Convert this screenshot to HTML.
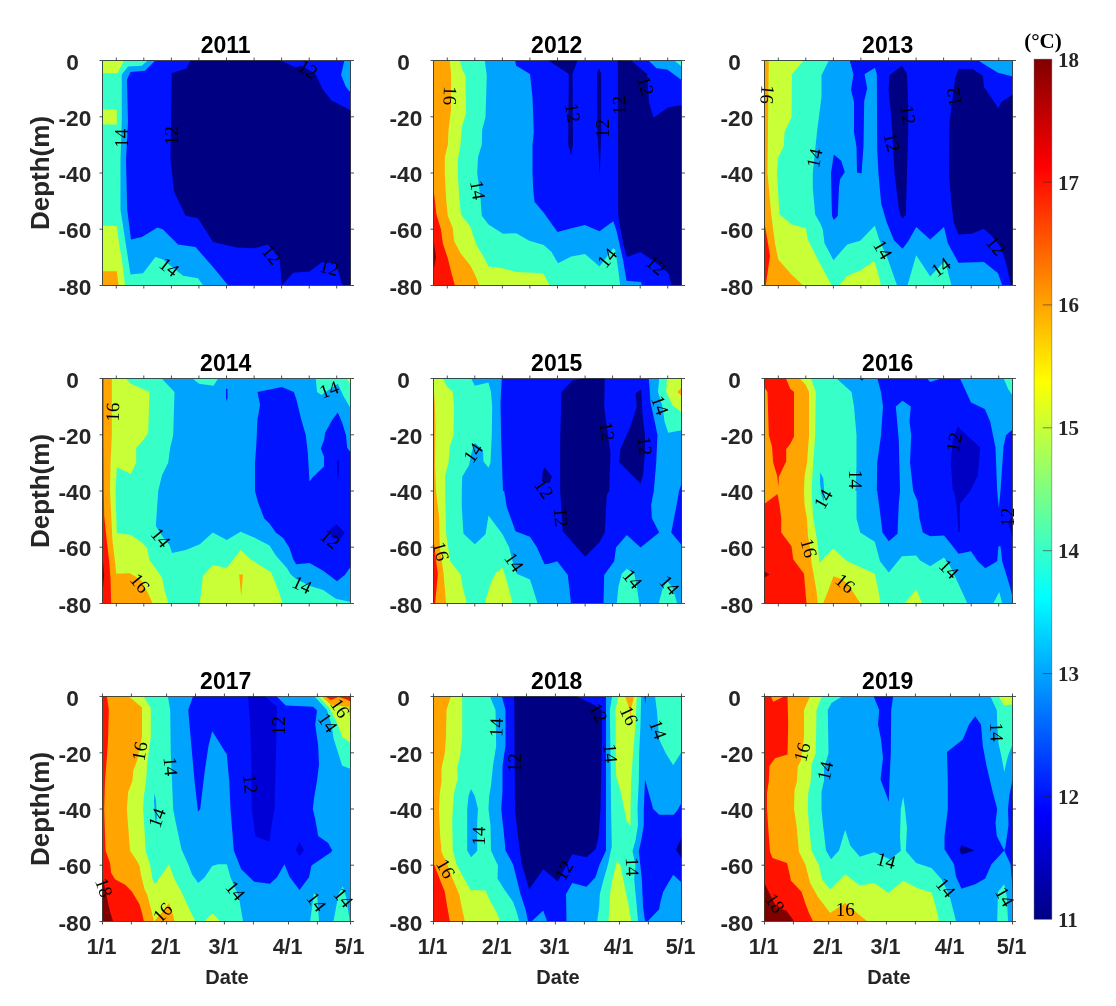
<!DOCTYPE html>
<html><head><meta charset="utf-8"><title>Temperature sections 2011-2019</title>
<style>
html,body{margin:0;padding:0;background:#fff}
svg{display:block}
.t{font-family:"Liberation Sans",Arial,Helvetica,sans-serif;font-weight:bold}
.s{font-family:"Liberation Serif","Times New Roman",serif}
</style></head><body>
<svg width="1116" height="1006" viewBox="0 0 1116 1006">
<rect width="1116" height="1006" fill="#fff"/>
<defs>
<clipPath id="c0"><rect x="102.5" y="60.5" width="248" height="225"/></clipPath>
<clipPath id="c1"><rect x="433.5" y="60.5" width="248" height="225"/></clipPath>
<clipPath id="c2"><rect x="764.5" y="60.5" width="248" height="225"/></clipPath>
<clipPath id="c3"><rect x="102.5" y="378.5" width="248" height="225"/></clipPath>
<clipPath id="c4"><rect x="433.5" y="378.5" width="248" height="225"/></clipPath>
<clipPath id="c5"><rect x="764.5" y="378.5" width="248" height="225"/></clipPath>
<clipPath id="c6"><rect x="102.5" y="696.5" width="248" height="225"/></clipPath>
<clipPath id="c7"><rect x="433.5" y="696.5" width="248" height="225"/></clipPath>
<clipPath id="c8"><rect x="764.5" y="696.5" width="248" height="225"/></clipPath>
<linearGradient id="jet" x1="0" y1="1" x2="0" y2="0"><stop offset="0" stop-color="#000083"/><stop offset="0.125" stop-color="#0000ff"/><stop offset="0.375" stop-color="#00ffff"/><stop offset="0.625" stop-color="#ffff00"/><stop offset="0.875" stop-color="#ff0000"/><stop offset="1" stop-color="#800000"/></linearGradient>
</defs>
<g id="p2011">
<g clip-path="url(#c0)">
<rect x="102.5" y="60.5" width="248" height="225" fill="#0012ff"/>
<polygon fill="#000083" points="190.5,60.2 186.8,68.2 171.8,73.2 170.5,159.5 174.2,192 185.5,215.8 198,218.2 213,242 236.8,247.5 254.2,248.2 268.2,244.5 279.5,258.2 282,285.2 293.2,272.8 309.5,271.5 322.2,262 336,263.2 341.5,282 342.8,285.2 351,285.2 351,110.5 331.5,100.5 322.8,89.2 315.2,73.8 301.5,65.8 295.8,67.5 279.8,60.2"/>
<polygon fill="#00a4ff" points="102.5,60.2 155.5,60.2 145,70.8 130.5,72 127,79.5 128,122 126,159.5 127.2,209.5 131,239.5 141.8,237 157.5,227.5 163,229.5 178,244.5 195.5,247 213,267 228,285.2 102.5,285.2"/>
<polygon fill="#00a4ff" points="344.5,60.2 341,75 345.8,86.8 351,93 351,60.2"/>
<polygon fill="#37ffc8" points="102.5,60.2 148,60.2 141.8,65.8 128,66.5 121.8,74.5 121.8,122 120.5,159.5 120.5,209.5 125.5,242 130.5,274.5 143,273.2 155.5,257 163,259.5 183,275.8 198,278.2 203,285.2 102.5,285.2"/>
<polygon fill="#c8ff37" points="102.5,60.2 124.2,60.2 117.5,73.2 102.5,73.2"/>
<polygon fill="#c8ff37" points="102.5,109.5 116.8,109.5 116.8,124.5 102.5,124.5"/>
<polygon fill="#c8ff37" points="102.5,225.8 116.8,225.8 119.2,244.5 121.8,259.5 125,285.2 102.5,285.2"/>
<polygon fill="#ffa400" points="102.5,271.2 116.8,271.2 118.5,285.2 102.5,285.2"/>
</g>
<text class="s" x="121.2" y="138.2" font-size="19" text-anchor="middle" dominant-baseline="central" transform="rotate(-90 121.2 138.2)">14</text>
<text class="s" x="171.8" y="135.8" font-size="19" text-anchor="middle" dominant-baseline="central" transform="rotate(-90 171.8 135.8)">12</text>
<text class="s" x="169.2" y="267" font-size="19" text-anchor="middle" dominant-baseline="central" transform="rotate(38 169.2 267)">14</text>
<text class="s" x="271.8" y="254.5" font-size="19" text-anchor="middle" dominant-baseline="central" transform="rotate(50 271.8 254.5)">12</text>
<text class="s" x="329.2" y="267.5" font-size="19" text-anchor="middle" dominant-baseline="central" transform="rotate(15 329.2 267.5)">12</text>
<text class="s" x="308" y="69" font-size="19" text-anchor="middle" dominant-baseline="central" transform="rotate(32 308 69)">12</text>
<path d="M102.5,60.5V285.5H350.5M350.5,60.5V285.5M102.5,60.5H350.5M99.5,60.5H102.5M350.5,60.5H354.0M99.5,116.8H102.5M350.5,116.8H354.0M99.5,173H102.5M350.5,173H354.0M99.5,229.2H102.5M350.5,229.2H354.0M99.5,285.5H102.5M350.5,285.5H354.0M116.3,285.5v3M116.3,60.5v-3M143.8,285.5v3M143.8,60.5v-3M171.4,285.5v3M171.4,60.5v-3M198.9,285.5v3M198.9,60.5v-3M226.5,285.5v3M226.5,60.5v-3M254.1,285.5v3M254.1,60.5v-3M281.6,285.5v3M281.6,60.5v-3M309.2,285.5v3M309.2,60.5v-3M336.7,285.5v3M336.7,60.5v-3" fill="none" stroke="#262626" stroke-width="1" stroke-opacity="0.8"/>
<text class="t" x="225.7" y="53.3" font-size="23" text-anchor="middle" fill="#000">2011</text>
<text class="t" x="78.8" y="69.6" font-size="22.7" text-anchor="end" fill="#262626">0</text>
<text class="t" x="91.3" y="125.8" font-size="22.7" text-anchor="end" fill="#262626">-20</text>
<text class="t" x="91.3" y="182.1" font-size="22.7" text-anchor="end" fill="#262626">-40</text>
<text class="t" x="91.3" y="238.3" font-size="22.7" text-anchor="end" fill="#262626">-60</text>
<text class="t" x="91.3" y="294.6" font-size="22.7" text-anchor="end" fill="#262626">-80</text>
<text class="t" x="48.5" y="173" font-size="26" text-anchor="middle" fill="#262626" transform="rotate(-90 48.5 173)">Depth(m)</text>
</g>
<g id="p2012">
<g clip-path="url(#c1)">
<rect x="433.5" y="60.5" width="248" height="225" fill="#0012ff"/>
<polygon fill="#000083" points="617.8,60.2 618,147 618.2,214.5 619.5,223.2 623.2,243.2 627,257 640.2,252 653.5,260.8 668.5,273.2 671.5,285.2 682,285.2 682,105.2 668.5,107.2 653.5,117.8 649,102.2 647,74 630.8,60.2"/>
<polygon fill="#000083" points="548,60.2 577.5,60.2 572.5,74 573,144.8 571.2,155.2 568.2,144.8 568.8,74"/>
<polygon fill="#000083" points="598.8,68.2 601.2,73.2 601.2,134.5 599.8,175 597.5,134.5 597,73.2"/>
<polygon fill="#00a4ff" points="433.5,60.2 515,60.2 516.2,65.8 530,74 532.5,97.2 533.8,132.2 532.5,144.8 532.5,173 533.2,189.2 534.5,201.8 543.2,212 557.5,232 571.5,228.2 585,225 599.5,231.2 613.2,221.2 616.5,230.8 623.2,260.8 626.5,280.8 640.8,282 642,285.2 433.5,285.2"/>
<polygon fill="#00a4ff" points="648.2,60.2 656.5,68.2 667.2,69.5 682,80.2 682,60.2"/>
<polygon fill="#37ffc8" points="674,60.2 682,67 682,60.2"/>
<polygon fill="#37ffc8" points="433.5,60.2 484.8,60.2 486.8,75.8 485.5,117.2 482.2,129.8 481.8,144.8 478,157.2 477.2,173 480.5,198 481.8,215.8 488.5,224.5 503,233.8 516.2,233.2 529.2,240.8 543.8,245 551.5,252 558,263.2 571.2,256.5 585,254 599.5,266.5 613.2,248.2 615.2,249.5 618.2,269.5 620.2,285.2 433.5,285.2"/>
<polygon fill="#c8ff37" points="433.5,60.2 459.8,60.2 462.2,69.5 465.5,75.8 466,113.5 461.8,127.2 460.5,144.8 457.8,159.8 457.8,173 459.2,198 461,214.5 470.5,227 474.2,238.2 476.8,245.8 483,255.8 488.5,266.5 502.5,268.2 516.2,272 543.2,273.2 549.5,285.2 433.5,285.2"/>
<polygon fill="#ffa400" points="433.5,60.2 449.8,60.2 451,74 451,109.8 448.5,129.8 447.8,144.8 444.8,157.2 444.8,173 446,198 447.8,215.8 452.8,228.2 454,240.8 460.5,253.2 470.5,265.8 475.5,275.8 479.2,285.2 433.5,285.2"/>
<polygon fill="#ff1200" points="433.5,192 434,193 436.5,214.5 441,229.5 442.8,243.2 447.8,258.2 451.5,273.2 454.8,285.2 433.5,285.2"/>
<polygon fill="#800000" points="433.5,243.2 434,243.2 436,257 434,268.2 433.5,268.2"/>
</g>
<text class="s" x="450.2" y="95.8" font-size="19" text-anchor="middle" dominant-baseline="central" transform="rotate(92 450.2 95.8)">16</text>
<text class="s" x="478" y="190" font-size="19" text-anchor="middle" dominant-baseline="central" transform="rotate(80 478 190)">14</text>
<text class="s" x="573" y="112.8" font-size="19" text-anchor="middle" dominant-baseline="central" transform="rotate(80 573 112.8)">12</text>
<text class="s" x="602" y="128.5" font-size="19" text-anchor="middle" dominant-baseline="central" transform="rotate(-90 602 128.5)">12</text>
<text class="s" x="619" y="105.2" font-size="19" text-anchor="middle" dominant-baseline="central" transform="rotate(-92 619 105.2)">12</text>
<text class="s" x="645.8" y="85.8" font-size="19" text-anchor="middle" dominant-baseline="central" transform="rotate(75 645.8 85.8)">12</text>
<text class="s" x="607" y="257.8" font-size="19" text-anchor="middle" dominant-baseline="central" transform="rotate(-50 607 257.8)">14</text>
<text class="s" x="656" y="265.2" font-size="19" text-anchor="middle" dominant-baseline="central" transform="rotate(40 656 265.2)">12</text>
<path d="M433.5,60.5V285.5H681.5M681.5,60.5V285.5M433.5,60.5H681.5M430.5,60.5H433.5M681.5,60.5H685.0M430.5,116.8H433.5M681.5,116.8H685.0M430.5,173H433.5M681.5,173H685.0M430.5,229.2H433.5M681.5,229.2H685.0M430.5,285.5H433.5M681.5,285.5H685.0M447.3,285.5v3M447.3,60.5v-3M474.8,285.5v3M474.8,60.5v-3M502.4,285.5v3M502.4,60.5v-3M529.9,285.5v3M529.9,60.5v-3M557.5,285.5v3M557.5,60.5v-3M585.1,285.5v3M585.1,60.5v-3M612.6,285.5v3M612.6,60.5v-3M640.2,285.5v3M640.2,60.5v-3M667.7,285.5v3M667.7,60.5v-3" fill="none" stroke="#262626" stroke-width="1" stroke-opacity="0.8"/>
<text class="t" x="556.7" y="53.3" font-size="23" text-anchor="middle" fill="#000">2012</text>
<text class="t" x="409.8" y="69.6" font-size="22.7" text-anchor="end" fill="#262626">0</text>
<text class="t" x="422.3" y="125.8" font-size="22.7" text-anchor="end" fill="#262626">-20</text>
<text class="t" x="422.3" y="182.1" font-size="22.7" text-anchor="end" fill="#262626">-40</text>
<text class="t" x="422.3" y="238.3" font-size="22.7" text-anchor="end" fill="#262626">-60</text>
<text class="t" x="422.3" y="294.6" font-size="22.7" text-anchor="end" fill="#262626">-80</text>
</g>
<g id="p2013">
<g clip-path="url(#c2)">
<rect x="764.5" y="60.5" width="248" height="225" fill="#0012ff"/>
<polygon fill="#000083" points="958.5,69.2 972.8,69.2 982.8,75.8 984,87 998.5,108.5 1001,102.2 1013,94.5 1013,285.2 1011,285.2 1005.5,260.8 1000.5,247 993,237 984,228.8 971.5,233.8 958.5,234.5 954,223.2 951.5,204.2 949,173 949.5,122.2 952,103.5 955.2,78.2"/>
<polygon fill="#000083" points="902,65.5 907,74 908.2,103.5 908.2,134.8 907,173 905.8,215 902.8,218.2 900.8,215.8 898.8,208.2 894.5,173 892.5,134.8 890.8,112.2 888.5,89.8 889.5,75.2"/>
<polygon fill="#00a4ff" points="764.2,60.2 849.8,60.2 853.5,74 859,72 864.5,74 874.8,67.8 876.8,74 877.2,150 878.5,174 881.2,203.8 886.5,221.8 893.8,240 902.5,248.8 908.2,241.2 916.2,227 930.2,239.5 944,227 947.8,243.2 958.5,262.8 984,262 998,273.2 1002.2,285.2 764.2,285.2"/>
<polygon fill="#00a4ff" points="977.8,60.2 986.5,65.8 998,72.8 1013,76.5 1013,60.2"/>
<polygon fill="#0012ff" points="849.8,60.2 853.5,74 851,89.8 854,102.2 854,132.2 856.5,147.2 857,172.5 861.5,173.5 863.5,147 864.2,101 867.2,88.5 864.5,74 874.8,67.8 880,60.2"/>
<polygon fill="#0012ff" points="833.8,154.5 841.2,160.8 844.8,172 840,179.5 839,187 837.8,215.8 833.8,220 832,215.8 831.5,198 831,173"/>
<polygon fill="#37ffc8" points="764.2,60.2 829,60.2 821.5,75.2 821.5,97 817,132.2 812.8,173 812.8,188 815.2,214.5 820.2,223.2 822.8,229.5 824.5,243.2 833.5,260.2 847.2,244.5 860.2,240.8 874.8,225.8 879.2,239.5 887.5,258.2 897,285.2 764.2,285.2"/>
<polygon fill="#37ffc8" points="907.5,285.2 916.2,255.2 930.2,276.5 937.8,268.2 945.2,260.8 948.2,273.2 951.5,285.2"/>
<polygon fill="#c8ff37" points="764.2,60.2 804,60.2 792,74 791.5,117.2 784.5,132.2 783.8,146 778.2,157.5 777,173 779.5,214.5 792,224.5 805.8,228.2 807.8,239.5 817.8,259.5 831.5,285.2 764.2,285.2"/>
<polygon fill="#c8ff37" points="839,285.2 847.2,275.8 861,270.2 874.2,260.8 878,273.2 881,285.2"/>
<polygon fill="#ffa400" points="764.2,60.2 768.8,60.2 768.2,109.5 767.5,173 771.2,214.5 775,243.2 778.2,259.5 791.5,274.5 802.8,285.2 764.2,285.2"/>
<polygon fill="#ff1200" points="764.2,225.8 765,225.8 770,255.8 768.2,268.2 765.8,285.2 764.2,285.2"/>
</g>
<text class="s" x="767.5" y="94.5" font-size="19" text-anchor="middle" dominant-baseline="central" transform="rotate(95 767.5 94.5)">16</text>
<text class="s" x="814.5" y="158.2" font-size="19" text-anchor="middle" dominant-baseline="central" transform="rotate(-78 814.5 158.2)">14</text>
<text class="s" x="908.2" y="114.8" font-size="19" text-anchor="middle" dominant-baseline="central" transform="rotate(80 908.2 114.8)">12</text>
<text class="s" x="892" y="142.2" font-size="19" text-anchor="middle" dominant-baseline="central" transform="rotate(75 892 142.2)">12</text>
<text class="s" x="954" y="97" font-size="19" text-anchor="middle" dominant-baseline="central" transform="rotate(-100 954 97)">12</text>
<text class="s" x="883" y="249.5" font-size="19" text-anchor="middle" dominant-baseline="central" transform="rotate(60 883 249.5)">14</text>
<text class="s" x="940.8" y="267" font-size="19" text-anchor="middle" dominant-baseline="central" transform="rotate(-35 940.8 267)">14</text>
<text class="s" x="996" y="245.8" font-size="19" text-anchor="middle" dominant-baseline="central" transform="rotate(50 996 245.8)">12</text>
<path d="M764.5,60.5V285.5H1012.5M1012.5,60.5V285.5M764.5,60.5H1012.5M761.5,60.5H764.5M1012.5,60.5H1016.0M761.5,116.8H764.5M1012.5,116.8H1016.0M761.5,173H764.5M1012.5,173H1016.0M761.5,229.2H764.5M1012.5,229.2H1016.0M761.5,285.5H764.5M1012.5,285.5H1016.0M778.3,285.5v3M778.3,60.5v-3M805.8,285.5v3M805.8,60.5v-3M833.4,285.5v3M833.4,60.5v-3M860.9,285.5v3M860.9,60.5v-3M888.5,285.5v3M888.5,60.5v-3M916.1,285.5v3M916.1,60.5v-3M943.6,285.5v3M943.6,60.5v-3M971.2,285.5v3M971.2,60.5v-3M998.7,285.5v3M998.7,60.5v-3" fill="none" stroke="#262626" stroke-width="1" stroke-opacity="0.8"/>
<text class="t" x="887.7" y="53.3" font-size="23" text-anchor="middle" fill="#000">2013</text>
<text class="t" x="740.8" y="69.6" font-size="22.7" text-anchor="end" fill="#262626">0</text>
<text class="t" x="753.3" y="125.8" font-size="22.7" text-anchor="end" fill="#262626">-20</text>
<text class="t" x="753.3" y="182.1" font-size="22.7" text-anchor="end" fill="#262626">-40</text>
<text class="t" x="753.3" y="238.3" font-size="22.7" text-anchor="end" fill="#262626">-60</text>
<text class="t" x="753.3" y="294.6" font-size="22.7" text-anchor="end" fill="#262626">-80</text>
</g>
<g id="p2014">
<g clip-path="url(#c3)">
<rect x="102.5" y="378.5" width="248" height="225" fill="#00a4ff"/>
<polygon fill="#0012ff" points="257.5,392 282,387 293.8,392 296.2,398.8 300.8,417.8 305.8,435.2 307.8,452.8 309.5,481.5 313.2,476.8 324,466.5 324,456.5 320.8,448.5 324,440.2 325.2,432.8 332,420.2 337.8,412.5 342.2,422.8 346,435.2 347.2,447.8 351,452.8 351,566.2 344.8,575 337,581.2 323.2,570.8 309.5,563 296.2,564.2 293.2,559.2 289.5,548 283.2,538 275.8,532.5 269.5,523.5 264.2,518.5 258,502.2 255,491 255,462.8 256.2,446.5 257.5,419 260,405"/>
<polygon fill="#0000c4" points="336.5,524.2 344.8,532.5 339.8,540 332,537.5 329.5,530"/>
<polygon fill="#0000c4" points="337,461.2 338.8,460 338.8,472.5 337.8,481.2"/>
<polygon fill="#0012ff" points="226,388.8 227.5,388.8 227.5,397.5 226.8,401.2 226,397.5"/>
<polygon fill="#37ffc8" points="102.5,378 161.2,378 174.5,392 173.2,435.2 170.2,447.8 168.2,462.8 162,475.2 158.2,491 155.8,526 163.2,537.5 169.5,545 172,553 185.8,550 199.8,544.2 212.8,532.5 226.8,540 240.5,531.8 254.2,537.5 269.5,545.5 275.8,555.5 287,568.2 290.8,574.5 295.8,578.8 309.5,585.8 323.2,590 335.8,598.8 351,602 351,603 102.5,603"/>
<polygon fill="#37ffc8" points="192,378 199,383.8 213.5,385.8 218.5,378"/>
<polygon fill="#37ffc8" points="315.8,378 317,392 321.5,395 337.8,383.8 343.5,396.2 351,409 351,378"/>
<polygon fill="#c8ff37" points="346.5,378 351,385 351,378"/>
<polygon fill="#c8ff37" points="102.5,378 125.5,378 130.8,383.8 149.5,392 148.2,432.8 143.2,440.2 136.2,447.8 136.2,462.8 130.8,474 116.8,467.2 115.5,491 116.8,533 130.8,535 142,542.5 147,548 149.5,560 155.8,568.8 162,577.5 164.5,590 168.2,603 102.5,603"/>
<polygon fill="#c8ff37" points="199.8,603 202.8,576.2 212.8,565 226.8,568 240.5,550 250.5,559.2 271.2,572.5 278.2,590 282.5,603"/>
<polygon fill="#ffa400" points="102.5,378 111.8,378 111.8,435.2 110.5,462.8 110,491 111.2,516 112.5,541.2 115,561.2 116.2,573.8 130,573.2 140.8,580 147,591.2 152.5,603 102.5,603"/>
<polygon fill="#ffa400" points="239.2,574.5 243,574.5 241.2,596.2"/>
<polygon fill="#ff1200" points="102.5,378 103.5,378 103.5,440 103.8,491 104.2,516 106.8,541.2 109.2,561.2 110.5,578.8 111.2,603 102.5,603"/>
<polygon fill="#800000" points="102.5,561.2 103,561.2 104.2,575 103,587.5 102.5,587.5"/>
</g>
<text class="s" x="112.5" y="412" font-size="19" text-anchor="middle" dominant-baseline="central" transform="rotate(-88 112.5 412)">16</text>
<text class="s" x="160.8" y="537.5" font-size="19" text-anchor="middle" dominant-baseline="central" transform="rotate(50 160.8 537.5)">14</text>
<text class="s" x="140" y="583.2" font-size="19" text-anchor="middle" dominant-baseline="central" transform="rotate(50 140 583.2)">16</text>
<text class="s" x="302" y="584.5" font-size="19" text-anchor="middle" dominant-baseline="central" transform="rotate(25 302 584.5)">14</text>
<text class="s" x="330.2" y="538.8" font-size="19" text-anchor="middle" dominant-baseline="central" transform="rotate(40 330.2 538.8)">12</text>
<text class="s" x="329" y="389.5" font-size="19" text-anchor="middle" dominant-baseline="central" transform="rotate(-20 329 389.5)">14</text>
<path d="M102.5,378.5V603.5H350.5M350.5,378.5V603.5M102.5,378.5H350.5M99.5,378.5H102.5M350.5,378.5H354.0M99.5,434.8H102.5M350.5,434.8H354.0M99.5,491H102.5M350.5,491H354.0M99.5,547.2H102.5M350.5,547.2H354.0M99.5,603.5H102.5M350.5,603.5H354.0M116.3,603.5v3M116.3,378.5v-3M143.8,603.5v3M143.8,378.5v-3M171.4,603.5v3M171.4,378.5v-3M198.9,603.5v3M198.9,378.5v-3M226.5,603.5v3M226.5,378.5v-3M254.1,603.5v3M254.1,378.5v-3M281.6,603.5v3M281.6,378.5v-3M309.2,603.5v3M309.2,378.5v-3M336.7,603.5v3M336.7,378.5v-3" fill="none" stroke="#262626" stroke-width="1" stroke-opacity="0.8"/>
<text class="t" x="225.7" y="371.3" font-size="23" text-anchor="middle" fill="#000">2014</text>
<text class="t" x="78.8" y="387.6" font-size="22.7" text-anchor="end" fill="#262626">0</text>
<text class="t" x="91.3" y="443.9" font-size="22.7" text-anchor="end" fill="#262626">-20</text>
<text class="t" x="91.3" y="500.1" font-size="22.7" text-anchor="end" fill="#262626">-40</text>
<text class="t" x="91.3" y="556.4" font-size="22.7" text-anchor="end" fill="#262626">-60</text>
<text class="t" x="91.3" y="612.6" font-size="22.7" text-anchor="end" fill="#262626">-80</text>
<text class="t" x="48.5" y="491" font-size="26" text-anchor="middle" fill="#262626" transform="rotate(-90 48.5 491)">Depth(m)</text>
</g>
<g id="p2015">
<g clip-path="url(#c4)">
<rect x="433.5" y="378.5" width="248" height="225" fill="#0012ff"/>
<polygon fill="#000083" points="572.2,380.8 584,378 604.8,378 604.2,406.5 608,435.2 610.5,452.8 609.2,491 606.8,495 604.8,532.5 599.2,542.5 585.2,556.8 562.8,531.2 560.2,491 560.2,440.2 561.5,392"/>
<polygon fill="#000083" points="641.2,389.5 635.5,393.2 636.8,406.5 630.5,426.5 620.5,449 619.2,462.2 640.5,483.5 643,475.2 645,452.8 645,435.2 642.5,415"/>
<polygon fill="#000083" points="544.5,467.2 552,476.8 549.5,483 542,481.8 542.5,472.8"/>
<polygon fill="#00a4ff" points="433.5,378 501.8,378 500.5,402.5 501.2,440.2 502.5,477.8 503,491 504.2,491 506.8,507.2 515.5,531.2 530,536.8 537,547.5 544.5,564.2 549,563.8 557.2,561.2 567.8,575 571,603 433.5,603"/>
<polygon fill="#00a4ff" points="603.5,603 604.2,575 614.2,561.2 616,547.5 626.8,535 640.5,547.5 659.2,532.5 651.8,518 651.2,504.8 653.8,491 656.2,462.8 657.5,435.2 655.5,425.2 650.5,402.5 648.8,378 682,378 682,603"/>
<polygon fill="#0012ff" points="682,482.5 679,491 676.2,507.2 671.2,532.5 682,545.5"/>
<polygon fill="#37ffc8" points="433.5,378 471,378 474.8,385.8 488.5,382.5 491,392 492.2,406.5 491.8,435.2 490.5,462.8 488.5,467.8 483.5,461.5 483,450.2 474.8,442.8 471.5,452.8 469,465.2 462.2,476.8 461.8,491 461.8,507.2 463.5,533.8 474.8,544.2 485.5,534.2 488.5,515.5 502.5,534.2 509.2,547.5 512.5,561.2 516.8,573.8 530,579.5 537.5,603 433.5,603"/>
<polygon fill="#37ffc8" points="659.2,378 658,392 662.5,406.5 664.5,421.5 668.2,432.8 682,430.2 682,378"/>
<polygon fill="#37ffc8" points="616.8,603 618.5,586.2 621.8,573.8 626.8,568.8 634.2,573.8 636.8,586.2 639.2,603"/>
<polygon fill="#37ffc8" points="658.8,603 663,587.5 667.5,581.2 672.5,587.5 677,603"/>
<polygon fill="#c8ff37" points="433.5,378 442.8,378 447.2,387 452.8,392 454,406.5 453.5,435.2 449.8,446.5 448.5,462.8 445.2,475.2 445.2,491 446,532.5 450.2,561.2 460.5,574.5 463,588.8 466.8,603 433.5,603"/>
<polygon fill="#c8ff37" points="484.8,603 490.5,583.8 495.5,573.2 502.5,567.5 506.8,581.2 512.5,603"/>
<polygon fill="#c8ff37" points="667,378 666.2,392 672.5,405.2 682,412.8 682,378"/>
<polygon fill="#ffa400" points="682,387 677.5,392 682,396.5"/>
<polygon fill="#ffa400" points="433.5,385 434.8,402.5 435.5,427.5 435,465 436,491 439,516 439.8,547.5 443.5,572.5 446,603 433.5,603"/>
<polygon fill="#ff1200" points="433.5,543.8 434,543.8 437.8,573.8 436.5,588.8 435.2,603 433.5,603"/>
</g>
<text class="s" x="473" y="452.8" font-size="19" text-anchor="middle" dominant-baseline="central" transform="rotate(-55 473 452.8)">14</text>
<text class="s" x="607.2" y="431.5" font-size="19" text-anchor="middle" dominant-baseline="central" transform="rotate(80 607.2 431.5)">12</text>
<text class="s" x="645" y="446" font-size="19" text-anchor="middle" dominant-baseline="central" transform="rotate(85 645 446)">12</text>
<text class="s" x="660" y="405.2" font-size="19" text-anchor="middle" dominant-baseline="central" transform="rotate(70 660 405.2)">14</text>
<text class="s" x="441" y="551.2" font-size="19" text-anchor="middle" dominant-baseline="central" transform="rotate(75 441 551.2)">16</text>
<text class="s" x="514.2" y="562" font-size="19" text-anchor="middle" dominant-baseline="central" transform="rotate(55 514.2 562)">14</text>
<text class="s" x="561" y="517.2" font-size="19" text-anchor="middle" dominant-baseline="central" transform="rotate(85 561 517.2)">12</text>
<text class="s" x="544" y="488.8" font-size="19" text-anchor="middle" dominant-baseline="central" transform="rotate(55 544 488.8)">12</text>
<text class="s" x="632.5" y="578.8" font-size="19" text-anchor="middle" dominant-baseline="central" transform="rotate(50 632.5 578.8)">14</text>
<text class="s" x="669.5" y="585" font-size="19" text-anchor="middle" dominant-baseline="central" transform="rotate(48 669.5 585)">14</text>
<path d="M433.5,378.5V603.5H681.5M681.5,378.5V603.5M433.5,378.5H681.5M430.5,378.5H433.5M681.5,378.5H685.0M430.5,434.8H433.5M681.5,434.8H685.0M430.5,491H433.5M681.5,491H685.0M430.5,547.2H433.5M681.5,547.2H685.0M430.5,603.5H433.5M681.5,603.5H685.0M447.3,603.5v3M447.3,378.5v-3M474.8,603.5v3M474.8,378.5v-3M502.4,603.5v3M502.4,378.5v-3M529.9,603.5v3M529.9,378.5v-3M557.5,603.5v3M557.5,378.5v-3M585.1,603.5v3M585.1,378.5v-3M612.6,603.5v3M612.6,378.5v-3M640.2,603.5v3M640.2,378.5v-3M667.7,603.5v3M667.7,378.5v-3" fill="none" stroke="#262626" stroke-width="1" stroke-opacity="0.8"/>
<text class="t" x="556.7" y="371.3" font-size="23" text-anchor="middle" fill="#000">2015</text>
<text class="t" x="409.8" y="387.6" font-size="22.7" text-anchor="end" fill="#262626">0</text>
<text class="t" x="422.3" y="443.9" font-size="22.7" text-anchor="end" fill="#262626">-20</text>
<text class="t" x="422.3" y="500.1" font-size="22.7" text-anchor="end" fill="#262626">-40</text>
<text class="t" x="422.3" y="556.4" font-size="22.7" text-anchor="end" fill="#262626">-60</text>
<text class="t" x="422.3" y="612.6" font-size="22.7" text-anchor="end" fill="#262626">-80</text>
</g>
<g id="p2016">
<g clip-path="url(#c5)">
<rect x="764.5" y="378.5" width="248" height="225" fill="#0012ff"/>
<polygon fill="#0000c4" points="957.8,426.5 980.2,447.8 977.8,475.2 970.2,491 960.2,503.5 959.8,516 960.2,532.5 958.5,531.2 956.5,506 954,491 952.8,491 950.8,462.8 952.8,440.2"/>
<polygon fill="#0000c4" points="1008,522.2 1013,515 1013,538.8"/>
<polygon fill="#00a4ff" points="764.2,378 877.2,378 881,392 883,406.5 881,435.2 877.2,462.8 876.8,491 877.2,491 880.5,516 882.5,532.5 888.8,541.2 897.5,533.8 898.8,503.5 900,491 898.8,440.2 895.8,406.5 902.5,400.8 910.8,406.5 909.5,421.5 911.2,435.2 910,462.8 913.2,491 917.5,501 919.5,518.5 922.8,532.5 930.2,536.2 944,535.5 950.8,543.8 958.5,553.8 971,551.2 977.8,561.2 985.2,568.2 997.2,561.2 998.5,546.2 1000.5,546.2 1002.2,561.2 1006.8,576.2 1010.5,588.8 1013,598.8 1013,603 764.2,603"/>
<polygon fill="#00a4ff" points="959.8,378 971,402.5 984.8,409 990.2,421.5 995.5,447.8 997.2,491 998.8,508 1000.5,491 1003.5,446.5 1006,435.2 1013,429 1013,378"/>
<polygon fill="#00a4ff" points="926.5,378 930.2,382 942.8,378"/>
<polygon fill="#0012ff" points="859,378 861.8,380.8 864.8,378"/>
<polygon fill="#37ffc8" points="1003.5,378 1008,388.8 1013,396.2 1013,378"/>
<polygon fill="#37ffc8" points="764.2,378 836,378 851.5,392 854,406.5 856.5,435.2 856.5,465.2 855.5,491 856.5,491 856.5,518.5 860.2,532.5 874.8,541.8 880,561.2 888.8,572.5 902,556.2 916.2,555.5 920.2,560.5 930.2,566.2 944,557.5 950.2,566.2 957.8,582.5 967.2,603 764.2,603"/>
<polygon fill="#37ffc8" points="993.5,603 999.2,592 1002.2,603"/>
<polygon fill="#00a4ff" points="820.2,472.2 823.2,478 824.5,495 823.5,502 821.5,495 820,482.5"/>
<polygon fill="#c8ff37" points="764.2,378 810.8,378 815.8,392 815.2,435.2 813.2,462.8 811.5,491 813.2,518.5 815.8,532.5 817.8,546.2 819.5,563 826.5,555 833.5,548.8 840.2,555 847.2,561.2 861,567.5 874.8,573.8 878,588.8 880.5,603 764.2,603"/>
<polygon fill="#c8ff37" points="905,603 916.2,589.5 922,603"/>
<polygon fill="#ffa400" points="764.2,378 799.5,378 805.8,385 809,392 809,435.2 807,462.8 804.5,476.8 804,491 804.5,504.8 807,518.5 807.8,535 810.2,548.8 811.5,562.5 814,576.2 816.5,591.2 817.8,603 764.2,603"/>
<polygon fill="#ffa400" points="823.2,603 828.5,590 833.5,576.2 842.8,579.5 850.2,587.5 856.5,597.5 860.2,603"/>
<polygon fill="#ff1200" points="764.2,378 785.8,378 790.2,388.8 794,392 794,436.5 790.2,444 786.2,449 786.2,461.5 778.8,476.8 778.5,486.8 777,475.2 773.2,462.8 772,446.5 768.8,435.2 767.5,392 764.2,387"/>
<polygon fill="#ff1200" points="764.2,504 777.5,494 779.5,504.8 781.2,518.5 781.2,532.5 791.5,546.2 793.2,559.2 804,573.8 805.2,588.8 806.5,603 764.2,603"/>
<polygon fill="#800000" points="764.2,571.5 769.5,574.5 764.2,577.8"/>
</g>
<text class="s" x="855.2" y="479.2" font-size="19" text-anchor="middle" dominant-baseline="central" transform="rotate(90 855.2 479.2)">14</text>
<text class="s" x="954" y="442.2" font-size="19" text-anchor="middle" dominant-baseline="central" transform="rotate(-80 954 442.2)">12</text>
<text class="s" x="823" y="499" font-size="19" text-anchor="middle" dominant-baseline="central" transform="rotate(-60 823 499)">14</text>
<text class="s" x="809" y="548" font-size="19" text-anchor="middle" dominant-baseline="central" transform="rotate(75 809 548)">16</text>
<text class="s" x="845.2" y="583.2" font-size="19" text-anchor="middle" dominant-baseline="central" transform="rotate(40 845.2 583.2)">16</text>
<text class="s" x="949" y="568.8" font-size="19" text-anchor="middle" dominant-baseline="central" transform="rotate(45 949 568.8)">14</text>
<text class="s" x="1007.2" y="517.2" font-size="19" text-anchor="middle" dominant-baseline="central" transform="rotate(-90 1007.2 517.2)">12</text>
<path d="M764.5,378.5V603.5H1012.5M1012.5,378.5V603.5M764.5,378.5H1012.5M761.5,378.5H764.5M1012.5,378.5H1016.0M761.5,434.8H764.5M1012.5,434.8H1016.0M761.5,491H764.5M1012.5,491H1016.0M761.5,547.2H764.5M1012.5,547.2H1016.0M761.5,603.5H764.5M1012.5,603.5H1016.0M778.3,603.5v3M778.3,378.5v-3M805.8,603.5v3M805.8,378.5v-3M833.4,603.5v3M833.4,378.5v-3M860.9,603.5v3M860.9,378.5v-3M888.5,603.5v3M888.5,378.5v-3M916.1,603.5v3M916.1,378.5v-3M943.6,603.5v3M943.6,378.5v-3M971.2,603.5v3M971.2,378.5v-3M998.7,603.5v3M998.7,378.5v-3" fill="none" stroke="#262626" stroke-width="1" stroke-opacity="0.8"/>
<text class="t" x="887.7" y="371.3" font-size="23" text-anchor="middle" fill="#000">2016</text>
<text class="t" x="740.8" y="387.6" font-size="22.7" text-anchor="end" fill="#262626">0</text>
<text class="t" x="753.3" y="443.9" font-size="22.7" text-anchor="end" fill="#262626">-20</text>
<text class="t" x="753.3" y="500.1" font-size="22.7" text-anchor="end" fill="#262626">-40</text>
<text class="t" x="753.3" y="556.4" font-size="22.7" text-anchor="end" fill="#262626">-60</text>
<text class="t" x="753.3" y="612.6" font-size="22.7" text-anchor="end" fill="#262626">-80</text>
</g>
<g id="p2017">
<g clip-path="url(#c6)">
<rect x="102.5" y="696.5" width="248" height="225" fill="#00a4ff"/>
<polygon fill="#0012ff" points="193.2,696 188.2,710 190.8,739.5 194.5,780.8 198,811.8 200.2,809 204.8,770.8 208.5,745.8 212.2,731.2 219.8,743.2 226.8,754.5 229.2,780.8 230.5,809 233.8,850.5 241.2,869.2 254.2,881.8 270,883.8 277,877.2 284.5,864.2 289.5,876.8 299.5,890 309,877.2 311.5,865.5 331,852.2 332.2,850.5 328.2,843 318.2,836 315.2,819 312.8,809 314,798.5 317,780.8 319,764.5 318.2,745.8 315.2,724.5 317,710.5 313.2,706.8 285.8,705.5 276.2,696"/>
<polygon fill="#0000d6" points="248,696 250,720.5 251.2,758.2 251.8,809 255.5,836.5 269.5,841.5 272,822.8 274.5,809 276.2,745.8 277,706.8 264.5,696"/>
<polygon fill="#0000d6" points="299.5,842.2 304,850.5 299.5,856 295.8,849.8"/>
<polygon fill="#37ffc8" points="102.5,696 167.8,696 170.2,710 170.8,753.2 172,780.8 173.2,809 175.8,822.8 181.5,849.2 188.2,864.2 192,874.2 198.2,883 204.8,877.2 212.2,866 218,864.2 226.8,864.2 230.5,877.2 238.8,896.8 243,921 102.5,921"/>
<polygon fill="#37ffc8" points="310.2,921 314,892.5 317,894.2 319,921"/>
<polygon fill="#37ffc8" points="333.5,921 338.5,894.2 342.8,886.2 346,896.8 349.8,921"/>
<polygon fill="#37ffc8" points="314,696 327,710 331.5,724.5 333.5,738.2 342.2,765.8 351,769 351,696"/>
<polygon fill="#00a4ff" points="154.5,793.2 156,800.5 157,818 156,823.5 155,818 154,800.5"/>
<polygon fill="#c8ff37" points="102.5,696 143.2,696 150.8,708 150.8,737 147,764.5 146.2,780.8 143.8,796 143.2,809 145.8,851.8 150,864.2 152.5,879.2 155,884.2 162,874.2 169,864.2 174.5,879.2 182,893 188.2,906.8 195.2,921 102.5,921"/>
<polygon fill="#c8ff37" points="205.2,921 212.2,913 219.8,921"/>
<polygon fill="#c8ff37" points="318.2,696 329.5,708 337.8,724.5 342.2,737 351,743.2 351,696"/>
<polygon fill="#ffa400" points="102.5,696 128.2,696 142,707.5 142,737 137,760.8 133.2,770.8 132.5,780.8 128.2,792 126.8,809 130,850.5 135.8,859.2 139.5,865.5 140.8,874.2 144.5,889.2 147,894.2 150.8,908 153.8,921 102.5,921"/>
<polygon fill="#ffa400" points="154.5,921 162.5,911.8 169,903 171.5,909.2 174.5,921"/>
<polygon fill="#ffa400" points="321.5,696 331,705 348.5,706.8 351,724.5 351,696"/>
<polygon fill="#ff1200" points="324.5,696 331,700 338.5,697 346,699.2 351,701.8 351,696"/>
<polygon fill="#ff1200" points="102.5,696 106.8,696 108.8,710 108,739.5 106.8,758.2 105,780.8 104.2,809 105.5,850.5 110,863 111.2,873 115,879.2 125.5,885 132,891.8 139.5,904.2 142,913 143.8,921 102.5,921"/>
<polygon fill="#800000" points="102.5,879.2 103,879.2 106.8,896.8 110,911.8 113,921 102.5,921"/>
</g>
<text class="s" x="139.5" y="751.2" font-size="19" text-anchor="middle" dominant-baseline="central" transform="rotate(-80 139.5 751.2)">16</text>
<text class="s" x="170.8" y="766.5" font-size="19" text-anchor="middle" dominant-baseline="central" transform="rotate(85 170.8 766.5)">14</text>
<text class="s" x="278.2" y="725.8" font-size="19" text-anchor="middle" dominant-baseline="central" transform="rotate(-90 278.2 725.8)">12</text>
<text class="s" x="250.5" y="784" font-size="19" text-anchor="middle" dominant-baseline="central" transform="rotate(85 250.5 784)">12</text>
<text class="s" x="327.8" y="722.5" font-size="19" text-anchor="middle" dominant-baseline="central" transform="rotate(55 327.8 722.5)">14</text>
<text class="s" x="340.2" y="708" font-size="19" text-anchor="middle" dominant-baseline="central" transform="rotate(55 340.2 708)">16</text>
<text class="s" x="157" y="817.8" font-size="19" text-anchor="middle" dominant-baseline="central" transform="rotate(-70 157 817.8)">14</text>
<text class="s" x="104.2" y="887.5" font-size="19" text-anchor="middle" dominant-baseline="central" transform="rotate(70 104.2 887.5)">18</text>
<text class="s" x="162.5" y="912.5" font-size="19" text-anchor="middle" dominant-baseline="central" transform="rotate(-45 162.5 912.5)">16</text>
<text class="s" x="235.5" y="890.5" font-size="19" text-anchor="middle" dominant-baseline="central" transform="rotate(50 235.5 890.5)">14</text>
<text class="s" x="316.5" y="901.8" font-size="19" text-anchor="middle" dominant-baseline="central" transform="rotate(52 316.5 901.8)">14</text>
<text class="s" x="343.5" y="897.5" font-size="19" text-anchor="middle" dominant-baseline="central" transform="rotate(50 343.5 897.5)">14</text>
<path d="M102.5,696.5V921.5H350.5M350.5,696.5V921.5M102.5,696.5H350.5M99.5,696.5H102.5M350.5,696.5H354.0M99.5,752.8H102.5M350.5,752.8H354.0M99.5,809H102.5M350.5,809H354.0M99.5,865.2H102.5M350.5,865.2H354.0M99.5,921.5H102.5M350.5,921.5H354.0M102.5,921.5v3M102.5,696.5v-3M131.4,921.5v3M131.4,696.5v-3M166.6,921.5v3M166.6,696.5v-3M195.5,921.5v3M195.5,696.5v-3M224.4,921.5v3M224.4,696.5v-3M253.4,921.5v3M253.4,696.5v-3M288.5,921.5v3M288.5,696.5v-3M317.4,921.5v3M317.4,696.5v-3M350.5,921.5v3M350.5,696.5v-3" fill="none" stroke="#262626" stroke-width="1" stroke-opacity="0.8"/>
<text class="t" x="225.7" y="689.3" font-size="23" text-anchor="middle" fill="#000">2017</text>
<text class="t" x="78.8" y="705.6" font-size="22.7" text-anchor="end" fill="#262626">0</text>
<text class="t" x="91.3" y="761.9" font-size="22.7" text-anchor="end" fill="#262626">-20</text>
<text class="t" x="91.3" y="818.1" font-size="22.7" text-anchor="end" fill="#262626">-40</text>
<text class="t" x="91.3" y="874.4" font-size="22.7" text-anchor="end" fill="#262626">-60</text>
<text class="t" x="91.3" y="930.6" font-size="22.7" text-anchor="end" fill="#262626">-80</text>
<text class="t" x="48.5" y="809" font-size="26" text-anchor="middle" fill="#262626" transform="rotate(-90 48.5 809)">Depth(m)</text>
<text class="t" x="101.6" y="953.9" font-size="21.5" text-anchor="middle" fill="#262626">1/1</text>
<text class="t" x="165.7" y="953.9" font-size="21.5" text-anchor="middle" fill="#262626">2/1</text>
<text class="t" x="223.5" y="953.9" font-size="21.5" text-anchor="middle" fill="#262626">3/1</text>
<text class="t" x="287.6" y="953.9" font-size="21.5" text-anchor="middle" fill="#262626">4/1</text>
<text class="t" x="349.6" y="953.9" font-size="21.5" text-anchor="middle" fill="#262626">5/1</text>
<text class="t" x="227" y="984.2" font-size="20" text-anchor="middle" fill="#262626">Date</text>
</g>
<g id="p2018">
<g clip-path="url(#c7)">
<rect x="433.5" y="696.5" width="248" height="225" fill="#0012ff"/>
<polygon fill="#000083" points="514.2,696 576,696 595.5,705.5 601.8,710 601.8,745.8 600.5,809 598.5,836.5 595.5,849.2 586.5,857.2 572.2,854.2 557.8,881.8 550.8,875.5 543.2,869.2 536.2,879.2 529.2,889.2 521.8,864.2 518,836.5 515,809"/>
<polygon fill="#000083" points="682,837.2 675.8,849.8 682,858.5"/>
<polygon fill="#00a4ff" points="433.5,696 501.8,696 505.5,710 505.5,745.8 502.5,765.8 502.5,790.8 501.2,809 504.2,836.5 505.5,850.5 513,864.2 516.8,879.2 520.5,894.2 525.5,909.2 528,921 433.5,921"/>
<polygon fill="#00a4ff" points="532,921 543.2,910.5 547,921"/>
<polygon fill="#00a4ff" points="606,696 606,809 606,850.5 599.2,865.5 595.5,877.2 586.5,886.8 572.2,883 566,894.2 566.5,921 645,921 643,906.8 641.8,879.2 638.8,851 641.2,840.5 643.8,825.2 643.8,809 645,779.5 653.2,809 659.2,814.8 673.8,814.8 678.2,809 682,801.8 682,696"/>
<polygon fill="#0012ff" points="644.5,696 645.2,704.2 646,696"/>
<polygon fill="#00a4ff" points="648,921 659.2,909.2 660.5,901.8 663.2,891.8 668.2,883 673.2,874.8 682,883 682,921"/>
<polygon fill="#37ffc8" points="433.5,696 489.8,696 495.5,710 496.2,745.8 493,765.8 491,785.8 489.2,796 488.5,809 490.5,825.2 491,850.5 496.2,861.8 498,865.5 497.5,878.5 504.2,889.2 513,901.8 516.2,910.5 519.2,921 433.5,921"/>
<polygon fill="#00a4ff" points="471,789 474.8,796 478,809 477.2,821.5 477.2,851 471,857.2 467.2,850.5 467.2,809 468.5,796"/>
<polygon fill="#37ffc8" points="612.2,696 609.8,710 610.5,753.2 611,809 611.8,846.5 608,864.2 603,881.8 599.8,894.2 599.2,906.8 597.2,921 638,921 636.8,906.8 634.2,879.2 635.5,865.5 632.5,851 635.5,840.5 638,825.2 637.5,809 638.8,780.8 639.2,753.2 640.5,724.5 641.2,696"/>
<polygon fill="#37ffc8" points="655,696 656.8,710 659.2,739.5 665.8,753.2 673.2,765.2 682,751.2 682,696"/>
<polygon fill="#c8ff37" points="433.5,696 462.2,696 462.2,737 460.5,753.2 457.2,768.2 457.8,778.2 454,793.2 452.8,809 452.2,821.5 452.8,850.5 456.5,864.2 463,876.8 470.5,890 485.5,890.5 490.5,901.8 496.8,913 500,921 433.5,921"/>
<polygon fill="#c8ff37" points="618.5,696 615.5,710 616,775.8 620.5,790.8 626.8,821.5 630.5,825.8 630.5,809 631.2,780.8 633,753.2 635.5,724.5 636.8,696"/>
<polygon fill="#c8ff37" points="616.8,860.5 620.5,865.5 624.2,884.2 628.8,906.8 631.2,921 608.5,921 609.2,906.8 610.5,890.5 613,876.8"/>
<polygon fill="#ffa400" points="433.5,696 451,696 446.5,710 446,737 444.8,753.2 441.5,768.2 441.5,780.8 439.8,793.2 439,809 440.2,836.5 441.5,851.8 447.2,864.2 452.8,879.2 459.2,894.2 462.2,909.2 464.8,921 433.5,921"/>
<polygon fill="#ffa400" points="625,696 634.2,696 631.2,708 630.5,718 629.2,708"/>
<polygon fill="#ff1200" points="433.5,863 434,864.2 439.8,879.2 444.8,891.8 447.2,906.8 449.8,921 433.5,921"/>
</g>
<text class="s" x="496.2" y="727.5" font-size="19" text-anchor="middle" dominant-baseline="central" transform="rotate(-88 496.2 727.5)">14</text>
<text class="s" x="514.2" y="762.8" font-size="19" text-anchor="middle" dominant-baseline="central" transform="rotate(-88 514.2 762.8)">12</text>
<text class="s" x="598.5" y="713" font-size="19" text-anchor="middle" dominant-baseline="central" transform="rotate(60 598.5 713)">12</text>
<text class="s" x="629.2" y="715.5" font-size="19" text-anchor="middle" dominant-baseline="central" transform="rotate(65 629.2 715.5)">16</text>
<text class="s" x="658" y="729.5" font-size="19" text-anchor="middle" dominant-baseline="central" transform="rotate(70 658 729.5)">14</text>
<text class="s" x="610.5" y="753.2" font-size="19" text-anchor="middle" dominant-baseline="central" transform="rotate(85 610.5 753.2)">14</text>
<text class="s" x="478.5" y="836" font-size="19" text-anchor="middle" dominant-baseline="central" transform="rotate(-88 478.5 836)">14</text>
<text class="s" x="446" y="868.5" font-size="19" text-anchor="middle" dominant-baseline="central" transform="rotate(60 446 868.5)">16</text>
<text class="s" x="563.5" y="870.5" font-size="19" text-anchor="middle" dominant-baseline="central" transform="rotate(-60 563.5 870.5)">12</text>
<text class="s" x="632.5" y="866.8" font-size="19" text-anchor="middle" dominant-baseline="central" transform="rotate(88 632.5 866.8)">14</text>
<path d="M433.5,696.5V921.5H681.5M681.5,696.5V921.5M433.5,696.5H681.5M430.5,696.5H433.5M681.5,696.5H685.0M430.5,752.8H433.5M681.5,752.8H685.0M430.5,809H433.5M681.5,809H685.0M430.5,865.2H433.5M681.5,865.2H685.0M430.5,921.5H433.5M681.5,921.5H685.0M433.5,921.5v3M433.5,696.5v-3M462.4,921.5v3M462.4,696.5v-3M497.6,921.5v3M497.6,696.5v-3M526.5,921.5v3M526.5,696.5v-3M555.4,921.5v3M555.4,696.5v-3M584.4,921.5v3M584.4,696.5v-3M619.5,921.5v3M619.5,696.5v-3M648.4,921.5v3M648.4,696.5v-3M681.5,921.5v3M681.5,696.5v-3" fill="none" stroke="#262626" stroke-width="1" stroke-opacity="0.8"/>
<text class="t" x="556.7" y="689.3" font-size="23" text-anchor="middle" fill="#000">2018</text>
<text class="t" x="409.8" y="705.6" font-size="22.7" text-anchor="end" fill="#262626">0</text>
<text class="t" x="422.3" y="761.9" font-size="22.7" text-anchor="end" fill="#262626">-20</text>
<text class="t" x="422.3" y="818.1" font-size="22.7" text-anchor="end" fill="#262626">-40</text>
<text class="t" x="422.3" y="874.4" font-size="22.7" text-anchor="end" fill="#262626">-60</text>
<text class="t" x="422.3" y="930.6" font-size="22.7" text-anchor="end" fill="#262626">-80</text>
<text class="t" x="432.6" y="953.9" font-size="21.5" text-anchor="middle" fill="#262626">1/1</text>
<text class="t" x="496.7" y="953.9" font-size="21.5" text-anchor="middle" fill="#262626">2/1</text>
<text class="t" x="554.5" y="953.9" font-size="21.5" text-anchor="middle" fill="#262626">3/1</text>
<text class="t" x="618.6" y="953.9" font-size="21.5" text-anchor="middle" fill="#262626">4/1</text>
<text class="t" x="680.6" y="953.9" font-size="21.5" text-anchor="middle" fill="#262626">5/1</text>
<text class="t" x="558" y="984.2" font-size="20" text-anchor="middle" fill="#262626">Date</text>
</g>
<g id="p2019">
<g clip-path="url(#c8)">
<rect x="764.5" y="696.5" width="248" height="225" fill="#00a4ff"/>
<polygon fill="#0012ff" points="873.5,696 879.2,710 878,724.5 881,739.5 883,758.2 880.5,779.5 886.8,796 888.8,802 889.5,780.8 890.8,753.2 891.2,710 893.2,696"/>
<polygon fill="#0012ff" points="947,752 962.8,739.5 969,724.5 975.2,716.2 981,724.5 982.8,745.8 986.5,765.8 993,793.2 997.2,809 995.5,822.8 996.8,836 1004.2,850.5 991.5,864.2 985.2,878.5 975.2,884.2 961.5,888.8 956,876.8 954,864.2 944.5,849.2 944.5,836.5 947.8,809 947.8,780.8"/>
<polygon fill="#000083" points="961.5,845.2 974.8,850.5 961.5,854.8 959.5,849.8"/>
<polygon fill="#0012ff" points="1013,777.5 1009.2,796 1008,809 1008.5,825.2 1005.5,846.5 1004.2,850.5 1010.5,864.2 1011.8,879.2 1013,898"/>
<polygon fill="#37ffc8" points="764.2,696 842.8,696 831.5,703 827.8,710 828.5,753.2 824,768.2 824,780.8 821.5,792 821.5,809 822.8,822.8 826,850.5 831,859.2 839,850.5 845.2,829.8 850.2,845.5 859.8,856.8 874.2,852.2 890,859.2 900.8,851 900,836.5 900.8,809 903.2,796.5 905,809 907,827.8 905.8,851 916.2,863 931.5,868 941.5,879.2 949.5,895.5 956,921 764.2,921"/>
<polygon fill="#37ffc8" points="990.2,696 996.8,710 997.2,724.5 998.5,743.2 1001.8,758.2 1004.2,772 1008,755.8 1013,743.2 1013,696"/>
<polygon fill="#37ffc8" points="997.2,921 998,891.8 1004.2,884.2 1006.8,896.8 1008,921"/>
<polygon fill="#c8ff37" points="998.5,696 1004.2,705.5 1013,704.2 1013,696"/>
<polygon fill="#c8ff37" points="764.2,696 822,696 816.5,710 815.8,753.2 811.5,764.5 810.8,780.8 808.2,793.2 807.8,809 809,825.2 811.5,850.5 819,865.5 822,879.2 830.2,889.2 845.2,874.2 859.8,885.5 874.2,883 888.8,893 903.2,880.5 917,888 931.5,892.5 935.2,904.2 939,921 764.2,921"/>
<polygon fill="#ffa400" points="764.2,696 810.2,696 804,710 804,737 800.8,760.8 797.8,766.5 797,780.8 794.5,790.8 794,809 796.5,825.2 799,851.8 805.2,864.2 810.2,883 817.8,896.8 830.2,913 845.2,903 854,910.5 866.8,921 764.2,921"/>
<polygon fill="#ff1200" points="764.2,696 787.5,696 788.2,724.5 787.5,754.5 775,758.2 769.5,765.8 768.8,780.8 767,793.2 767,809 768.8,836.5 770,851.8 772.5,858 787,863 790.2,876.8 790.8,880.5 801.5,891.8 805.2,903 809,913 812.8,921 764.2,921"/>
<polygon fill="#ffa400" points="770.8,696 773.2,701.8 785,696"/>
<polygon fill="#800000" points="764.2,883 765,884.2 771.2,896.8 777,908 786.2,910.5 794,921 764.2,921"/>
</g>
<text class="s" x="802" y="752" font-size="19" text-anchor="middle" dominant-baseline="central" transform="rotate(-75 802 752)">16</text>
<text class="s" x="825.2" y="770.8" font-size="19" text-anchor="middle" dominant-baseline="central" transform="rotate(-78 825.2 770.8)">14</text>
<text class="s" x="996.8" y="732" font-size="19" text-anchor="middle" dominant-baseline="central" transform="rotate(88 996.8 732)">14</text>
<text class="s" x="775" y="903" font-size="19" text-anchor="middle" dominant-baseline="central" transform="rotate(55 775 903)">18</text>
<text class="s" x="845.2" y="909.2" font-size="19" text-anchor="middle" dominant-baseline="central" transform="rotate(0 845.2 909.2)">16</text>
<text class="s" x="886.2" y="860.5" font-size="19" text-anchor="middle" dominant-baseline="central" transform="rotate(15 886.2 860.5)">14</text>
<text class="s" x="945.8" y="887.5" font-size="19" text-anchor="middle" dominant-baseline="central" transform="rotate(50 945.8 887.5)">14</text>
<text class="s" x="1004.8" y="896.8" font-size="19" text-anchor="middle" dominant-baseline="central" transform="rotate(60 1004.8 896.8)">14</text>
<path d="M764.5,696.5V921.5H1012.5M1012.5,696.5V921.5M764.5,696.5H1012.5M761.5,696.5H764.5M1012.5,696.5H1016.0M761.5,752.8H764.5M1012.5,752.8H1016.0M761.5,809H764.5M1012.5,809H1016.0M761.5,865.2H764.5M1012.5,865.2H1016.0M761.5,921.5H764.5M1012.5,921.5H1016.0M764.5,921.5v3M764.5,696.5v-3M793.4,921.5v3M793.4,696.5v-3M828.6,921.5v3M828.6,696.5v-3M857.5,921.5v3M857.5,696.5v-3M886.4,921.5v3M886.4,696.5v-3M915.4,921.5v3M915.4,696.5v-3M950.5,921.5v3M950.5,696.5v-3M979.4,921.5v3M979.4,696.5v-3M1012.5,921.5v3M1012.5,696.5v-3" fill="none" stroke="#262626" stroke-width="1" stroke-opacity="0.8"/>
<text class="t" x="887.7" y="689.3" font-size="23" text-anchor="middle" fill="#000">2019</text>
<text class="t" x="740.8" y="705.6" font-size="22.7" text-anchor="end" fill="#262626">0</text>
<text class="t" x="753.3" y="761.9" font-size="22.7" text-anchor="end" fill="#262626">-20</text>
<text class="t" x="753.3" y="818.1" font-size="22.7" text-anchor="end" fill="#262626">-40</text>
<text class="t" x="753.3" y="874.4" font-size="22.7" text-anchor="end" fill="#262626">-60</text>
<text class="t" x="753.3" y="930.6" font-size="22.7" text-anchor="end" fill="#262626">-80</text>
<text class="t" x="763.6" y="953.9" font-size="21.5" text-anchor="middle" fill="#262626">1/1</text>
<text class="t" x="827.7" y="953.9" font-size="21.5" text-anchor="middle" fill="#262626">2/1</text>
<text class="t" x="885.5" y="953.9" font-size="21.5" text-anchor="middle" fill="#262626">3/1</text>
<text class="t" x="949.6" y="953.9" font-size="21.5" text-anchor="middle" fill="#262626">4/1</text>
<text class="t" x="1011.6" y="953.9" font-size="21.5" text-anchor="middle" fill="#262626">5/1</text>
<text class="t" x="889" y="984.2" font-size="20" text-anchor="middle" fill="#262626">Date</text>
</g>
<g id="colorbar">
<rect x="1034.1" y="59.2" width="17.7" height="860.1" fill="url(#jet)" stroke="#262626" stroke-opacity="0.45" stroke-width="0.8"/>
<text class="s" x="1058" y="926.7" font-size="21" font-weight="bold" fill="#262626">11</text>
<text class="s" x="1058" y="803.8" font-size="21" font-weight="bold" fill="#262626">12</text>
<path d="M1042.8,796.4h9" stroke="#262626" stroke-opacity="0.6" stroke-width="0.9" fill="none"/>
<text class="s" x="1058" y="681" font-size="21" font-weight="bold" fill="#262626">13</text>
<path d="M1042.8,673.6h9" stroke="#262626" stroke-opacity="0.6" stroke-width="0.9" fill="none"/>
<text class="s" x="1058" y="558.1" font-size="21" font-weight="bold" fill="#262626">14</text>
<path d="M1042.8,550.7h9" stroke="#262626" stroke-opacity="0.6" stroke-width="0.9" fill="none"/>
<text class="s" x="1058" y="435.2" font-size="21" font-weight="bold" fill="#262626">15</text>
<path d="M1042.8,427.8h9" stroke="#262626" stroke-opacity="0.6" stroke-width="0.9" fill="none"/>
<text class="s" x="1058" y="312.3" font-size="21" font-weight="bold" fill="#262626">16</text>
<path d="M1042.8,304.9h9" stroke="#262626" stroke-opacity="0.6" stroke-width="0.9" fill="none"/>
<text class="s" x="1058" y="189.5" font-size="21" font-weight="bold" fill="#262626">17</text>
<path d="M1042.8,182.1h9" stroke="#262626" stroke-opacity="0.6" stroke-width="0.9" fill="none"/>
<text class="s" x="1058" y="66.6" font-size="21" font-weight="bold" fill="#262626">18</text>
<text class="s" x="1043" y="48" font-size="21" font-weight="bold" text-anchor="middle" fill="#000">(°C)</text>
</g>
</svg>
</body></html>
